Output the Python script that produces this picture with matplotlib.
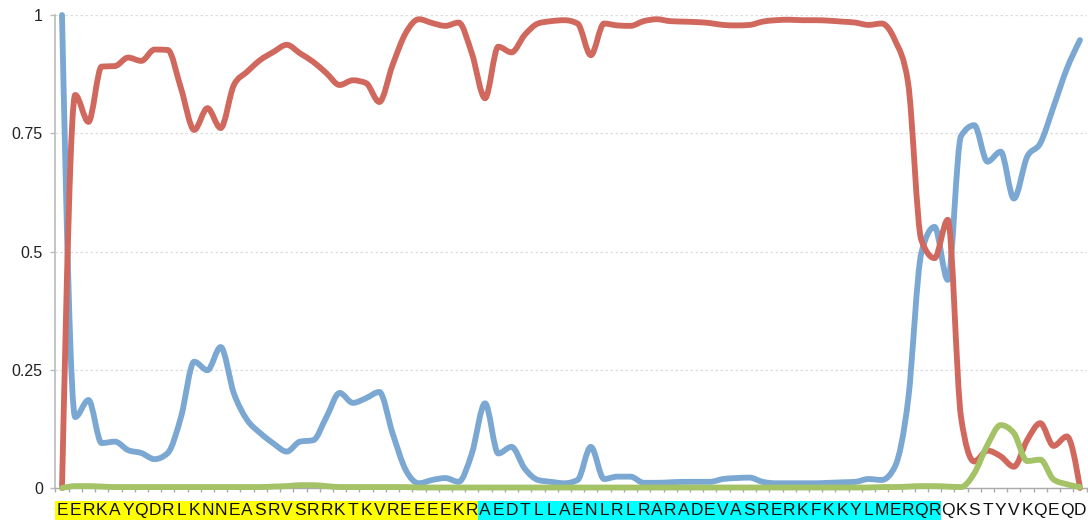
import numpy as np
import matplotlib
matplotlib.use('Agg')
import matplotlib.pyplot as plt
from matplotlib.path import Path
from matplotlib.patches import PathPatch, Rectangle
import matplotlib.transforms as mtrans

plt.rcParams['font.family'] = ['Liberation Sans', 'DejaVu Sans']

# residue sequence and the two highlighted segments
residues = list("EERKAYQDRLKNNEASRVSRRKTKVREEEEKR"
                "AEDTLLAENLRLRARADEVASRERKFKKYLMERQR"
                "QKSTYVKQEQD")
segments = [(0, 31, '#ffff00'), (32, 66, '#00ffff')]

coil = [1.000, 0.150, 0.186, 0.095, 0.098, 0.080, 0.074, 0.061, 0.074, 0.150,
        0.267, 0.249, 0.298, 0.200, 0.144, 0.116, 0.094, 0.077, 0.098, 0.101,
        0.150, 0.201, 0.180, 0.190, 0.203, 0.116, 0.038, 0.010, 0.017, 0.021,
        0.013, 0.073, 0.179, 0.073, 0.087, 0.041, 0.017, 0.013, 0.010, 0.017,
        0.087, 0.019, 0.024, 0.024, 0.011, 0.011, 0.012, 0.013, 0.013, 0.013,
        0.019, 0.021, 0.022, 0.013, 0.010, 0.010, 0.010, 0.010, 0.011, 0.012,
        0.013, 0.019, 0.017, 0.045, 0.186, 0.497, 0.552, 0.440, 0.744, 0.767,
        0.690, 0.711, 0.612, 0.700, 0.729, 0.806, 0.886, 0.947]

helix = [0.000, 0.831, 0.774, 0.891, 0.892, 0.910, 0.903, 0.927, 0.926, 0.845,
         0.757, 0.803, 0.761, 0.852, 0.880, 0.905, 0.922, 0.937, 0.919, 0.901,
         0.877, 0.852, 0.862, 0.856, 0.816, 0.894, 0.962, 0.991, 0.983, 0.977,
         0.984, 0.919, 0.824, 0.933, 0.921, 0.958, 0.982, 0.987, 0.989, 0.982,
         0.915, 0.982, 0.978, 0.977, 0.987, 0.991, 0.987, 0.986, 0.985, 0.983,
         0.979, 0.978, 0.979, 0.986, 0.989, 0.990, 0.989, 0.989, 0.988, 0.986,
         0.984, 0.979, 0.982, 0.947, 0.856, 0.524, 0.486, 0.567, 0.150, 0.056,
         0.079, 0.067, 0.045, 0.101, 0.137, 0.089, 0.109, 0.000]

strand = [0.000, 0.004, 0.004, 0.003, 0.002, 0.002, 0.002, 0.002, 0.002, 0.002,
          0.002, 0.002, 0.002, 0.002, 0.002, 0.002, 0.003, 0.004, 0.006, 0.006,
          0.004, 0.002, 0.002, 0.002, 0.002, 0.002, 0.002, 0.001, 0.001, 0.001,
          0.001, 0.001, 0.001, 0.001, 0.001, 0.001, 0.001, 0.001, 0.001, 0.001,
          0.001, 0.001, 0.001, 0.001, 0.001, 0.001, 0.001, 0.001, 0.001, 0.001,
          0.001, 0.001, 0.001, 0.001, 0.001, 0.001, 0.001, 0.001, 0.001, 0.001,
          0.001, 0.001, 0.002, 0.002, 0.003, 0.004, 0.004, 0.003, 0.002, 0.031,
          0.091, 0.133, 0.116, 0.057, 0.060, 0.018, 0.008, 0.002]

yticks = [0, 0.25, 0.5, 0.75, 1]
ytick_labels = ['0', '0.25', '0.5', '0.75', '1']


def monotone_path(xs, ys):
    # monotone cubic through the points, written as bezier segments
    xs = np.asarray(xs, float)
    ys = np.asarray(ys, float)
    n = len(xs)
    h = np.diff(xs)
    s = np.diff(ys) / h
    t = np.zeros(n)
    for i in range(1, n - 1):
        p = (s[i - 1] * h[i] + s[i] * h[i - 1]) / (h[i - 1] + h[i])
        t[i] = (np.sign(s[i - 1]) + np.sign(s[i])) * min(abs(s[i - 1]), abs(s[i]), 0.5 * abs(p))
    t[0] = (3 * s[0] - t[1]) / 2
    t[-1] = (3 * s[-1] - t[-2]) / 2
    verts = [(xs[0], ys[0])]
    codes = [Path.MOVETO]
    for i in range(n - 1):
        d = h[i] / 3
        verts += [(xs[i] + d, ys[i] + d * t[i]),
                  (xs[i + 1] - d, ys[i + 1] - d * t[i + 1]),
                  (xs[i + 1], ys[i + 1])]
        codes += [Path.CURVE4] * 3
    return Path(verts, codes)


W, H = 1088, 522
fig = plt.figure(figsize=(W / 100, H / 100), dpi=100)
ax = fig.add_axes([55.4 / W, 1 - 488 / H, 1031.2 / W, 473 / H])

x = np.arange(len(residues))
for vals, col in [(coil, '#7ba7d3'), (helix, '#d0685d'), (strand, '#a4c266')]:
    ax.add_patch(PathPatch(monotone_path(x, vals), facecolor='none', edgecolor=col,
                           lw=4.2, capstyle='round', joinstyle='round',
                           clip_on=False, zorder=3))

ax.set_xlim(-0.5, len(residues) - 0.5)
ax.set_ylim(0, 1)

# grid and axes
ax.set_yticks(yticks)
ax.set_yticklabels(ytick_labels, fontsize=11.5, color='#222222')
ax.yaxis.grid(True, color='#dddddd', linestyle=(0, (2, 2)), lw=0.9)
ax.tick_params(axis='y', length=3.6, width=1, color='#bbbbbb', pad=5.5)
for side in ['top', 'right']:
    ax.spines[side].set_visible(False)
ax.spines['left'].set_color('#bbbbbb')
ax.spines['left'].set_linewidth(1.2)
ax.spines['bottom'].set_color('#aaaaaa')
ax.spines['bottom'].set_linewidth(1)

ax.set_xticks(x)
ax.set_xticklabels(residues, fontsize=12.5, color='#111111')
ax.set_xticks(np.arange(-0.5, len(residues), 1), minor=True)
ax.tick_params(axis='x', which='major', length=0, pad=11)
ax.tick_params(axis='x', which='minor', length=3, width=1, color='#aaaaaa')

# coloured backgrounds behind the residue letters
trans = mtrans.blended_transform_factory(ax.transData, fig.transFigure)
for start, end, col in segments:
    ax.add_patch(Rectangle((start - 0.5, 1 - 519.5 / H), end - start + 1, 19 / H,
                           transform=trans, facecolor=col, edgecolor='none',
                           clip_on=False, zorder=0))

fig.savefig('out.png', dpi=100)
